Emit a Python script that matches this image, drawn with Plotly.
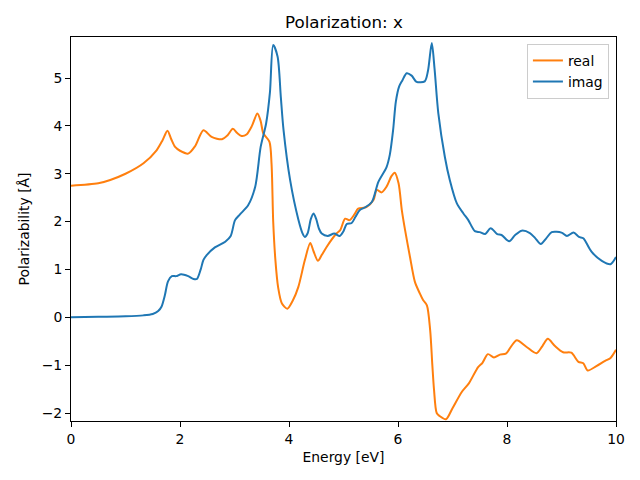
import plotly.graph_objects as go

real_x = [0.0, 0.5, 0.72, 1.0, 1.33, 1.57, 1.68, 1.77, 1.84, 1.91, 2.0, 2.15, 2.28, 2.43, 2.58, 2.77, 2.87, 2.97,
          3.05, 3.13, 3.22, 3.32, 3.42, 3.48, 3.53, 3.64, 3.68, 3.71, 3.75, 3.80, 3.87, 3.97, 4.07, 4.17, 4.29,
          4.39, 4.45, 4.53, 4.6, 4.69, 4.87, 4.94, 5.03, 5.11, 5.2, 5.27, 5.42, 5.55, 5.61, 5.70, 5.79, 5.88,
          5.94, 6.01, 6.07, 6.13, 6.22, 6.31, 6.40, 6.46, 6.53, 6.59, 6.63, 6.66, 6.71, 6.76, 6.88, 7.0, 7.17,
          7.3, 7.47, 7.55, 7.65, 7.76, 7.87, 7.98, 8.08, 8.18, 8.36, 8.54, 8.65, 8.75, 8.88, 9.03, 9.18, 9.31,
          9.40, 9.48, 9.64, 9.8, 9.9, 10.0]
real_y = [2.75, 2.8, 2.87, 3.0, 3.22, 3.49, 3.7, 3.9, 3.72, 3.56, 3.48, 3.42, 3.58, 3.91, 3.77, 3.72, 3.8, 3.94,
          3.85, 3.79, 3.82, 4.0, 4.26, 4.1, 3.84, 3.67, 3.2, 2.0, 1.2, 0.63, 0.29, 0.18, 0.35, 0.63, 1.19,
          1.55, 1.38, 1.18, 1.3, 1.47, 1.75, 1.82, 2.06, 2.03, 2.15, 2.27, 2.3, 2.45, 2.66, 2.61, 2.73, 2.95,
          3.02, 2.8, 2.24, 1.82, 1.26, 0.74, 0.5, 0.36, 0.25, -0.27, -1.0, -1.5, -2.0, -2.06, -2.13, -1.9, -1.56,
          -1.38, -1.04, -0.95, -0.77, -0.84, -0.78, -0.76, -0.6, -0.48, -0.62, -0.75, -0.6, -0.45, -0.6, -0.73,
          -0.74, -0.93, -0.96, -1.11, -1.02, -0.91, -0.85, -0.68]

imag_x = [0.0, 0.5, 1.0, 1.33, 1.5, 1.6, 1.66, 1.72, 1.78, 1.85, 1.93, 2.02, 2.15, 2.25, 2.31, 2.38, 2.43, 2.49,
          2.64, 2.83, 2.93, 3.01, 3.10, 3.25, 3.38, 3.48, 3.58, 3.65, 3.71, 3.79, 3.85, 3.90, 4.02, 4.17, 4.25,
          4.29, 4.34, 4.4, 4.45, 4.5, 4.55, 4.6, 4.71, 4.83, 4.93, 5.0, 5.06, 5.15, 5.22, 5.30, 5.4, 5.52, 5.64,
          5.79, 5.85, 5.91, 5.96, 6.02, 6.08, 6.16, 6.25, 6.34, 6.49, 6.55, 6.62, 6.67, 6.74, 6.86, 6.95, 7.08,
          7.2, 7.29, 7.41, 7.5, 7.6, 7.70, 7.82, 7.9, 8.04, 8.15, 8.27, 8.42, 8.52, 8.62, 8.72, 8.82, 9.0, 9.1,
          9.22, 9.32, 9.40, 9.55, 9.74, 9.90, 10.0]
imag_y = [0.0, 0.01, 0.02, 0.04, 0.07, 0.13, 0.22, 0.45, 0.75, 0.86, 0.86, 0.9, 0.86, 0.8, 0.8, 1.0, 1.2, 1.3,
          1.46, 1.58, 1.7, 2.03, 2.15, 2.34, 2.73, 3.56, 4.05, 4.7, 5.69, 5.45, 4.6, 3.91, 2.87, 2.05, 1.75,
          1.68, 1.75, 2.05, 2.17, 2.05, 1.85, 1.75, 1.7, 1.75, 1.7, 1.8, 1.95, 1.97, 2.1, 2.24, 2.3, 2.41, 2.83,
          3.14, 3.4, 3.91, 4.5, 4.82, 4.95, 5.10, 5.05, 4.92, 4.93, 5.15, 5.73, 5.2, 4.26, 3.35, 2.87, 2.38,
          2.17, 2.03, 1.8, 1.78, 1.74, 1.86, 1.74, 1.72, 1.59, 1.72, 1.81, 1.76, 1.65, 1.53, 1.65, 1.78, 1.77, 1.7,
          1.77, 1.68, 1.65, 1.37, 1.18, 1.11, 1.26]

x_ticks = [0, 2, 4, 6, 8, 10]
y_ticks = [-2, -1, 0, 1, 2, 3, 4, 5]
title_text = "Polarization: x"

font = "DejaVu Sans"
fig = go.Figure()
fig.add_trace(go.Scatter(x=real_x, y=real_y, mode="lines", name="real",
                         line=dict(color="#ff7f0e", width=2, shape="spline", smoothing=0.8)))
fig.add_trace(go.Scatter(x=imag_x, y=imag_y, mode="lines", name="imag",
                         line=dict(color="#1f77b4", width=2, shape="spline", smoothing=0.8)))

axis_common = dict(showgrid=False, zeroline=False, showline=True, linecolor="black", linewidth=1,
                   mirror=True, ticks="outside", ticklen=5, tickwidth=1, tickcolor="black",
                   tickfont=dict(family=font, size=13.9, color="black"))
fig.update_layout(
    width=640, height=480,
    margin=dict(l=63, r=32, t=29, b=67),
    plot_bgcolor="white", paper_bgcolor="white",
    xaxis=dict(range=[0, 10], tickvals=x_ticks, title=dict(text="Energy [eV]", standoff=6,
               font=dict(family=font, size=13.9, color="black")), **axis_common),
    yaxis=dict(range=[-2.167, 5.857], tickvals=y_ticks, title=dict(text="Polarizability [Å]", standoff=8,
               font=dict(family=font, size=13.9, color="black")), **axis_common),
    legend=dict(x=0.987, y=0.982, xanchor="right", yanchor="top", bgcolor="white",
                bordercolor="#cccccc", borderwidth=1, font=dict(family=font, size=13.9, color="black"),
                tracegroupgap=0, itemwidth=30),
    showlegend=True,
)
fig.add_annotation(text=title_text, x=0.5, y=1, xref="paper", yref="paper", xanchor="center",
                   yanchor="bottom", yshift=3, showarrow=False,
                   font=dict(family=font, size=16.7, color="black"))
fig.write_html("out.html")
